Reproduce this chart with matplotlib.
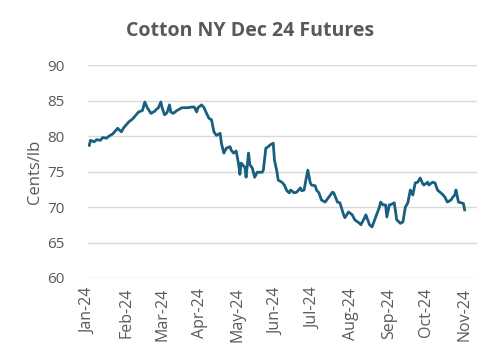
import matplotlib
matplotlib.use("Agg")
import matplotlib.pyplot as plt
import matplotlib.dates as mdates
import pandas as pd

plt.rcParams['font.family'] = ['Open Sans', 'DejaVu Sans']

# settlement prices (cents/lb)
dates = ["2024-01-02", "2024-01-03", "2024-01-06", "2024-01-08", "2024-01-11", "2024-01-13",
         "2024-01-16", "2024-01-18", "2024-01-21", "2024-01-23", "2024-01-25", "2024-01-28",
         "2024-01-30", "2024-02-03", "2024-02-06", "2024-02-09", "2024-02-11", "2024-02-14",
         "2024-02-16", "2024-02-18", "2024-02-21", "2024-02-24", "2024-02-25", "2024-02-27",
         "2024-02-29", "2024-03-01", "2024-03-03", "2024-03-05", "2024-03-07", "2024-03-08",
         "2024-03-10", "2024-03-13", "2024-03-15", "2024-03-17", "2024-03-20", "2024-03-22",
         "2024-03-25", "2024-03-27", "2024-03-29", "2024-03-30", "2024-04-02", "2024-04-04",
         "2024-04-06", "2024-04-08", "2024-04-10", "2024-04-12", "2024-04-14", "2024-04-17",
         "2024-04-18", "2024-04-20", "2024-04-22", "2024-04-25", "2024-04-26", "2024-04-28",
         "2024-04-30", "2024-05-02", "2024-05-03", "2024-05-04", "2024-05-07", "2024-05-08",
         "2024-05-10", "2024-05-11", "2024-05-13", "2024-05-15", "2024-05-17", "2024-05-21",
         "2024-05-22", "2024-05-24", "2024-05-26", "2024-05-27", "2024-05-30", "2024-05-31",
         "2024-06-02", "2024-06-03", "2024-06-06", "2024-06-08", "2024-06-10", "2024-06-12",
         "2024-06-13", "2024-06-16", "2024-06-18", "2024-06-21", "2024-06-22", "2024-06-24",
         "2024-06-25", "2024-06-27", "2024-06-29", "2024-06-30", "2024-07-03", "2024-07-04",
         "2024-07-06", "2024-07-08", "2024-07-11", "2024-07-14", "2024-07-17", "2024-07-18",
         "2024-07-21", "2024-07-23", "2024-07-26", "2024-07-27", "2024-07-30", "2024-08-02",
         "2024-08-04", "2024-08-08", "2024-08-09", "2024-08-12", "2024-08-13", "2024-08-16",
         "2024-08-18", "2024-08-21", "2024-08-24", "2024-08-25", "2024-08-27", "2024-08-29",
         "2024-08-30", "2024-09-01", "2024-09-03", "2024-09-05", "2024-09-07", "2024-09-10",
         "2024-09-12", "2024-09-14", "2024-09-16", "2024-09-18", "2024-09-20", "2024-09-22",
         "2024-09-24", "2024-09-25", "2024-09-26", "2024-09-28", "2024-09-29", "2024-10-02",
         "2024-10-03", "2024-10-06", "2024-10-08", "2024-10-10", "2024-10-12", "2024-10-14",
         "2024-10-16", "2024-10-18", "2024-10-21", "2024-10-22", "2024-10-24", "2024-10-25",
         "2024-10-27", "2024-10-29", "2024-10-31", "2024-11-01"]
prices = [78.7, 79.4, 79.2, 79.5, 79.4, 79.8,
          79.7, 80.0, 80.3, 80.7, 81.1, 80.6,
          81.2, 82.0, 82.4, 83.0, 83.4, 83.6,
          84.8, 84.0, 83.2, 83.5, 83.7, 84.0,
          84.8, 84.0, 83.0, 83.3, 84.4, 83.4,
          83.2, 83.6, 83.8, 84.0, 84.0, 84.0,
          84.1, 84.1, 83.4, 84.0, 84.4, 84.0,
          83.2, 82.5, 82.3, 80.6, 80.1, 80.4,
          79.0, 77.6, 78.3, 78.5, 78.0, 77.6,
          77.9, 76.0, 74.6, 76.2, 75.6, 74.2,
          77.6, 76.0, 75.5, 74.2, 74.9, 74.9,
          75.2, 78.3, 78.5, 78.7, 79.0, 76.6,
          75.0, 73.8, 73.5, 73.1, 72.3, 72.0,
          72.4, 72.0, 72.1, 72.7, 72.3, 72.4,
          73.4, 75.2, 73.4, 73.1, 73.0, 72.4,
          72.0, 71.0, 70.7, 71.4, 72.1, 72.0,
          70.7, 70.6, 68.9, 68.5, 69.3, 68.9,
          68.2, 67.7, 67.5, 68.5, 68.9, 67.5,
          67.2, 68.6, 70.0, 70.7, 70.3, 70.3,
          68.6, 70.3, 70.4, 70.6, 68.2, 67.7,
          67.9, 70.0, 70.6, 72.4, 71.7, 73.4,
          73.5, 73.8, 74.1, 73.3, 73.1, 73.5,
          73.1, 73.5, 73.4, 72.4, 72.1, 71.8,
          71.4, 70.7, 71.0, 71.3, 71.7, 72.4,
          70.7, 70.6, 70.5, 69.6]

title = "Cotton NY Dec 24 Futures"
ylabel = "Cents/lb"

df = pd.DataFrame({"date": pd.to_datetime(dates), "price": prices})

grey = "#595959"
fig = plt.figure(figsize=(5, 3.58), dpi=100)
ax = fig.add_axes([0.176, 0.2235, 0.778, 0.5945])

ax.plot(df["date"], df["price"], color="#185f80", lw=2.0, solid_joinstyle="round")

ax.set_ylim(60, 90)
ax.set_yticks(range(60, 91, 5))
ax.set_xlim(pd.Timestamp("2024-01-01"), pd.Timestamp("2024-11-11"))
ax.xaxis.set_major_locator(mdates.MonthLocator())
ax.xaxis.set_major_formatter(mdates.DateFormatter("%b-%y"))

ax.grid(axis="y", color="#d9d9d9", lw=1)
ax.set_axisbelow(True)
for s in ax.spines.values():
    s.set_visible(False)
ax.tick_params(length=0, colors=grey, labelsize=11)
ax.tick_params(axis="y", pad=17)
ax.tick_params(axis="x", pad=7, labelsize=11.5)
plt.setp(ax.get_xticklabels(), rotation=90)

ax.set_ylabel(ylabel, color=grey, fontsize=12, labelpad=3)
fig.suptitle(title, x=0.5, y=0.94, color=grey, fontsize=14, fontweight="bold")

fig.savefig("out.png", dpi=100)
